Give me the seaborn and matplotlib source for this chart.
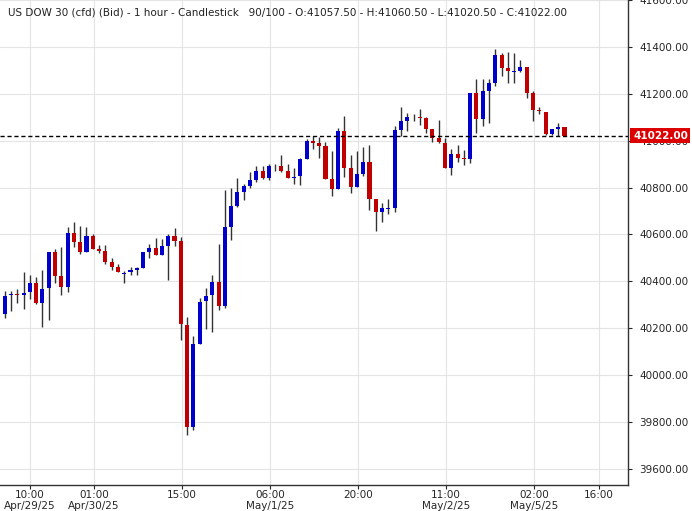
import numpy as np
import pandas as pd
import matplotlib
matplotlib.use("Agg")
import matplotlib.pyplot as plt
import seaborn as sns

# hourly OHLC
opens = [40260, 40340, 40345, 40340, 40353, 40394, 40310, 40370, 40525, 40424,
         40374, 40606, 40568, 40527, 40593, 40538, 40529, 40483, 40462, 40433,
         40438, 40449, 40459, 40527, 40542, 40514, 40552, 40593, 40572, 40216,
         39780, 40135, 40315, 40340, 40398, 40294, 40633, 40720, 40780, 40805,
         40831, 40869, 40839, 40893, 40894, 40869, 40843, 40848, 40924, 40998,
         40989, 40976, 40836, 40794, 41043, 40883, 40803, 40856, 40911, 40752,
         40697, 40710, 40713, 41047, 41085, 41103, 41100, 41098, 41049, 41011,
         40992, 40884, 40942, 40926, 40923, 41203, 41091, 41213, 41244, 41366,
         41311, 41294, 41299, 41315, 41202, 41130, 41124, 41028, 41048, 41057.5]
highs = [40360, 40360, 40368, 40440, 40428, 40419, 40449, 40525, 40538, 40547,
         40633, 40653, 40636, 40633, 40602, 40555, 40555, 40500, 40474, 40445,
         40462, 40463, 40525, 40559, 40585, 40580, 40602, 40627, 40589, 40250,
         40169, 40330, 40373, 40428, 40559, 40788, 40800, 40839, 40817, 40865,
         40893, 40893, 40899, 40901, 40937, 40899, 40882, 40928, 41009, 41022,
         41015, 40996, 40954, 41053, 41104, 40937, 40958, 40975, 40983, 40752,
         40735, 40750, 41064, 41145, 41120, 41115, 41135, 41103, 41052, 41090,
         41012, 40964, 40980, 40959, 41203, 41264, 41264, 41264, 41391, 41374,
         41378, 41374, 41344, 41315, 41213, 41145, 41124, 41052, 41074, 41060.5]
lows = [40243, 40272, 40310, 40281, 40327, 40302, 40204, 40234, 40392, 40344,
        40353, 40548, 40518, 40527, 40539, 40522, 40476, 40450, 40438, 40395,
        40429, 40428, 40455, 40501, 40514, 40514, 40404, 40552, 40149, 39746,
        39768, 40132, 40196, 40183, 40277, 40285, 40576, 40718, 40746, 40797,
        40822, 40836, 40831, 40870, 40865, 40839, 40814, 40811, 40924, 40964,
        40925, 40836, 40764, 40794, 40845, 40777, 40803, 40849, 40706, 40617,
        40654, 40688, 40694, 41022, 41041, 41086, 41067, 41032, 40994, 40990,
        40884, 40854, 40909, 40896, 40905, 41032, 41062, 41074, 41234, 41274,
        41244, 41248, 41291, 41180, 41083, 41113, 41024, 41024, 41022, 41020.5]
closes = [40339, 40345, 40340, 40351, 40394, 40310, 40368, 40525, 40425, 40374,
          40606, 40569, 40527, 40593, 40539, 40529, 40484, 40463, 40438, 40436,
          40449, 40457, 40525, 40542, 40514, 40551, 40593, 40573, 40217, 39780,
          40135, 40313, 40339, 40398, 40294, 40631, 40720, 40780, 40805, 40831,
          40869, 40839, 40894, 40890, 40869, 40843, 40846, 40924, 40998, 40989,
          40976, 40836, 40794, 41043, 40883, 40803, 40856, 40911, 40752, 40697,
          40713, 40713, 41047, 41085, 41103, 41100, 41098, 41049, 41011, 40994,
          40884, 40942, 40926, 40923, 41203, 41091, 41213, 41244, 41366, 41312,
          41299, 41297, 41315, 41202, 41130, 41125, 41028, 41048, 41060, 41022]

tick_pos = [4.0, 14.2, 28.2, 42.2, 56.2, 70.2, 84.2, 94.5]
tick_labels = ["10:00\nApr/29/25", "01:00\nApr/30/25", "15:00", "06:00\nMay/1/25",
               "20:00", "11:00\nMay/2/25", "02:00\nMay/5/25", "16:00"]
last_price = 41022.00

df = pd.DataFrame({"open": opens, "high": highs, "low": lows, "close": closes})
df["idx"] = np.arange(len(df))
df["up"] = df["close"] >= df["open"]
up_c, dn_c = "#0000cc", "#c00000"

sns.set_style("whitegrid", {"grid.color": "#e4e4e4", "axes.edgecolor": "#333333"})
plt.rcParams["font.family"] = ["DejaVu Sans"]

fig = plt.figure(figsize=(6.92, 5.11), dpi=100)
ax = fig.add_axes([0.0, 0.051, 0.9075, 0.949])

ax.vlines(df["idx"], df["low"], df["high"], color="#333333", lw=1, zorder=2)
body = (df["close"] - df["open"]).abs().clip(lower=3)
bottom = df[["open", "close"]].min(axis=1)
colors = np.where(df["up"], up_c, dn_c)
ax.bar(df["idx"], body, bottom=bottom, width=0.65, color=colors, zorder=3, linewidth=0)

ax.axhline(last_price, color="black", lw=1, ls=(0, (3, 2)), zorder=4)

ax.set_xlim(-0.75, 99.1)
ax.set_ylim(39532, 41591)
ax.set_yticks(np.arange(39600, 41700, 200))
ax.yaxis.tick_right()
ax.yaxis.set_major_formatter(matplotlib.ticker.FormatStrFormatter("%.2f"))
ax.set_xticks(tick_pos)
ax.set_xticklabels(tick_labels, fontsize=7.5, linespacing=1.05)
ax.tick_params(axis="y", labelsize=7.5, length=3, direction="out", right=True, pad=5)
ax.tick_params(axis="x", length=3, direction="out", bottom=True, pad=1)
for s in ["top", "left"]:
    ax.spines[s].set_visible(False)
ax.spines["right"].set_linewidth(1)
ax.spines["bottom"].set_linewidth(1)
ax.grid(True, color="#e4e4e4", lw=0.8)

ax.text(1.008, last_price, f"{last_price:.2f}", transform=ax.get_yaxis_transform(),
        va="center", ha="left", fontsize=7.5, fontweight="bold", color="white",
        bbox=dict(boxstyle="square,pad=0.25", fc="#dd0000", ec="none"), zorder=5)

ax.text(0.012, 0.985, "US DOW 30 (cfd) (Bid) - 1 hour - Candlestick   90/100 - O:41057.50 - H:41060.50 - L:41020.50 - C:41022.00",
        transform=ax.transAxes, fontsize=7.5, va="top", ha="left", color="#222222")

fig.savefig("out.png", dpi=100)
